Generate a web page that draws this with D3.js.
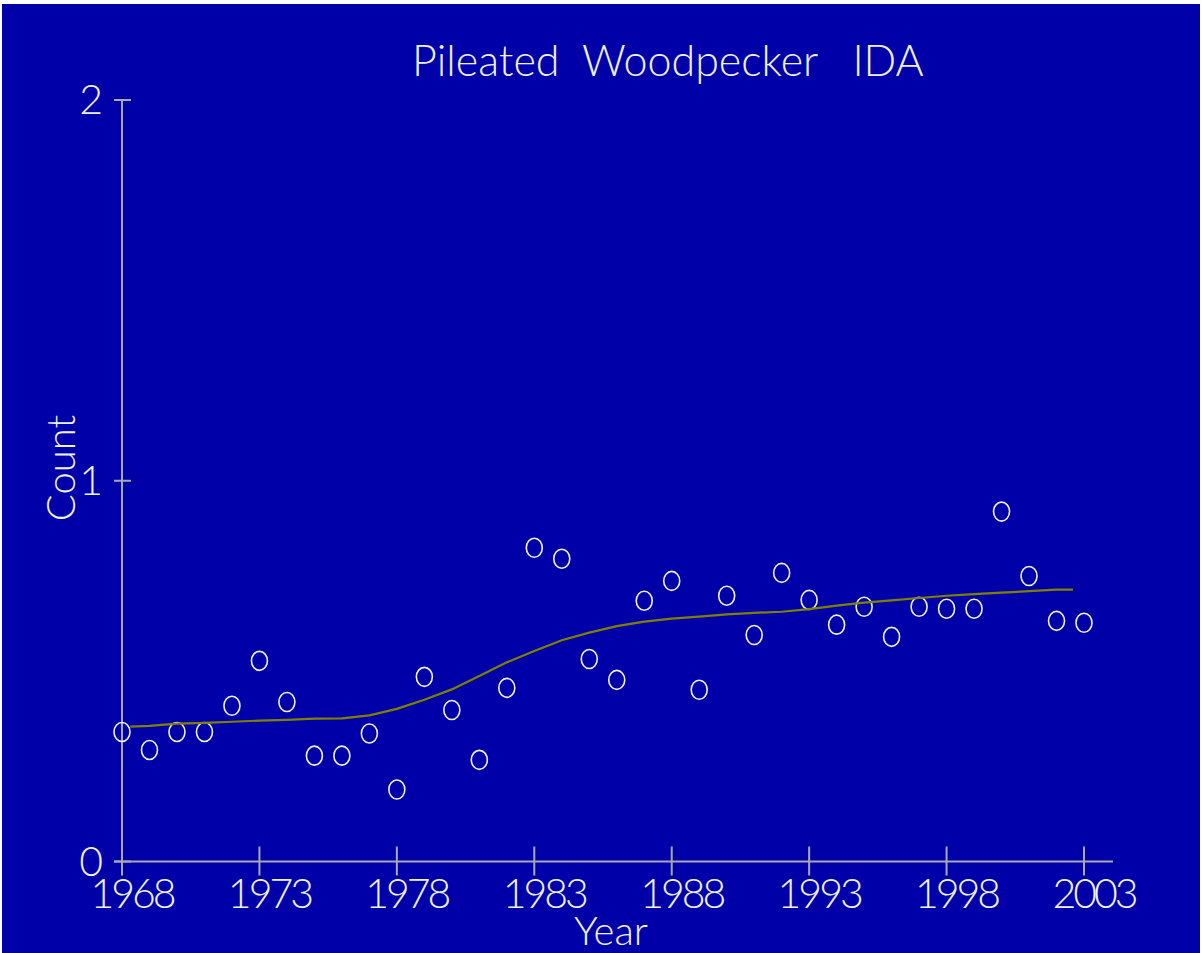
<!DOCTYPE html>
<html>
<head>
<meta charset="utf-8">
<script src="https://cdn.jsdelivr.net/npm/d3@7"></script>
<style>
  body { margin: 0; background: #fff; }
  svg { display: block; }
  text { font-family: "Lato", "DejaVu Sans", sans-serif; font-weight: 300; fill: #f0f0ff; white-space: pre; }
</style>
</head>
<body>
<svg id="chart" width="1202" height="953"></svg>
<script>
// yearly counts
var years = [1968, 1969, 1970, 1971, 1972, 1973, 1974, 1975, 1976, 1977, 1978, 1979,
  1980, 1981, 1982, 1983, 1984, 1985, 1986, 1987, 1988, 1989, 1990, 1991,
  1992, 1993, 1994, 1995, 1996, 1997, 1998, 1999, 2000, 2001, 2002, 2003];
var counts = [0.34, 0.293, 0.34, 0.34, 0.409, 0.527, 0.419, 0.278, 0.278, 0.336, 0.189, 0.485,
  0.398, 0.267, 0.456, 0.824, 0.795, 0.532, 0.477, 0.685, 0.737, 0.451, 0.698, 0.595,
  0.758, 0.687, 0.622, 0.669, 0.59, 0.669, 0.664, 0.664, 0.919, 0.75, 0.632, 0.627];

// smoothed trend
var trendYears = [1968.3, 1969, 1970, 1971, 1972, 1973, 1974, 1975, 1976, 1977, 1978, 1979,
  1980, 1981, 1982, 1983, 1984, 1985, 1986, 1987, 1988, 1989, 1990, 1991,
  1992, 1993, 1994, 1995, 1996, 1997, 1998, 1999, 2000, 2001, 2002, 2002.6];
var trendValues = [0.354, 0.356, 0.362, 0.364, 0.367, 0.37, 0.372, 0.375, 0.376, 0.384, 0.401, 0.425,
  0.452, 0.487, 0.523, 0.553, 0.581, 0.601, 0.618, 0.63, 0.638, 0.643, 0.649, 0.653,
  0.656, 0.663, 0.672, 0.68, 0.686, 0.692, 0.698, 0.702, 0.706, 0.71, 0.714, 0.714];

var xTicks = [1968, 1973, 1978, 1983, 1988, 1993, 1998, 2003];
var yTicks = [0, 1, 2];

var titleText = "Pileated  Woodpecker   IDA";
var xLabel = "Year";
var yLabel = "Count";

var svg = d3.select("#chart");

// blue panel
svg.append("rect")
    .attr("x", 2).attr("y", 4)
    .attr("width", 1198).attr("height", 949)
    .attr("fill", "#0000a8");

var xScale = d3.scaleLinear().domain([1968, 2003]).range([122, 1084]);
var yScale = d3.scaleLinear().domain([0, 2]).range([861.5, 100]);

var axisColor = "#a8a8b4";

// y axis
svg.append("line")
    .attr("x1", xScale(1968)).attr("x2", xScale(1968))
    .attr("y1", yScale(2)).attr("y2", yScale(0))
    .attr("stroke", axisColor).attr("stroke-width", 2);

svg.selectAll(".ytick")
    .data(yTicks)
    .enter().append("line")
    .attr("class", "ytick")
    .attr("x1", xScale(1968) - 8).attr("x2", xScale(1968) + 9)
    .attr("y1", function (d) { return yScale(d); })
    .attr("y2", function (d) { return yScale(d); })
    .attr("stroke", axisColor).attr("stroke-width", 2);

svg.selectAll(".ylab")
    .data(yTicks)
    .enter().append("text")
    .attr("class", "ylab")
    .attr("x", 103)
    .attr("y", function (d) { return yScale(d) + 14; })
    .attr("text-anchor", "end")
    .attr("font-size", 41)
    .text(function (d) { return d; });

// x axis
svg.append("line")
    .attr("x1", 114).attr("x2", 1113)
    .attr("y1", yScale(0)).attr("y2", yScale(0))
    .attr("stroke", axisColor).attr("stroke-width", 2);

svg.selectAll(".xtick")
    .data(xTicks)
    .enter().append("line")
    .attr("class", "xtick")
    .attr("x1", function (d) { return xScale(d); })
    .attr("x2", function (d) { return xScale(d); })
    .attr("y1", yScale(0) - 15).attr("y2", yScale(0) + 14)
    .attr("stroke", axisColor).attr("stroke-width", 2);

svg.selectAll(".xlab")
    .data(xTicks)
    .enter().append("text")
    .attr("class", "xlab")
    .attr("x", function (d) { return xScale(d) + 10; })
    .attr("y", 908)
    .attr("text-anchor", "middle")
    .attr("font-size", 41)
    .attr("letter-spacing", -3)
    .text(function (d) { return d; });

// points
svg.selectAll(".pt")
    .data(years)
    .enter().append("ellipse")
    .attr("class", "pt")
    .attr("cx", function (d) { return xScale(d); })
    .attr("cy", function (d, i) { return yScale(counts[i]); })
    .attr("rx", 8).attr("ry", 9.5)
    .attr("fill", "none")
    .attr("stroke", "#f0f0ff")
    .attr("stroke-width", 1.6);

// trend line
var line = d3.line()
    .x(function (d) { return xScale(d); })
    .y(function (d, i) { return yScale(trendValues[i]); });

svg.append("path")
    .datum(trendYears)
    .attr("d", line)
    .attr("fill", "none")
    .attr("stroke", "#808000")
    .attr("stroke-width", 2.2);

// titles
svg.append("text")
    .attr("x", 412).attr("y", 76)
    .attr("font-size", 43)
    .text(titleText);

svg.append("text")
    .attr("x", 611).attr("y", 945)
    .attr("text-anchor", "middle")
    .attr("font-size", 40)
    .text(xLabel);

svg.append("text")
    .attr("transform", "translate(75,468) rotate(-90)")
    .attr("text-anchor", "middle")
    .attr("font-size", 40)
    .text(yLabel);
</script>
</body>
</html>
